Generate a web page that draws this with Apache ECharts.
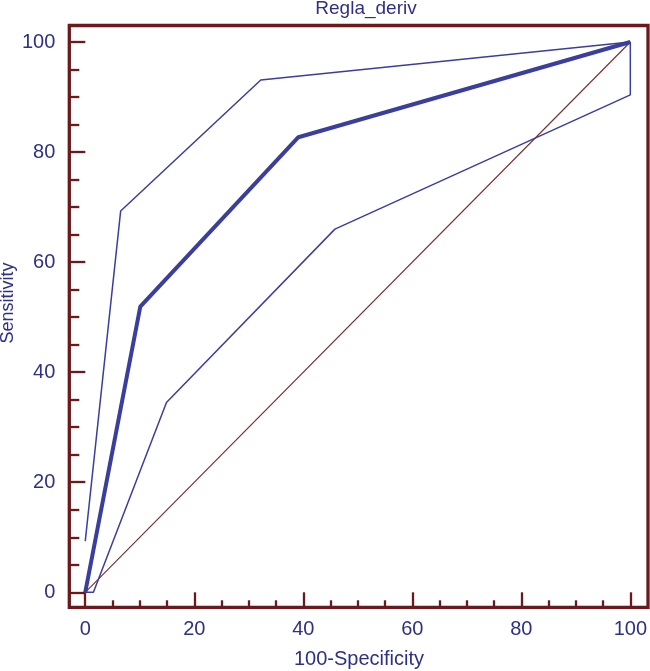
<!DOCTYPE html>
<html>
<head>
<meta charset="utf-8">
<script src="https://cdn.jsdelivr.net/npm/echarts@6/dist/echarts.min.js"></script>
<style>html,body{margin:0;padding:0;background:#fff}#c{width:650px;height:671px}</style>
</head>
<body>
<div id="c"></div>
<script>
// ROC curve data (100-Specificity, Sensitivity)
const rocX = [0, 10.1, 39.1, 100];
const rocY = [0, 51.9, 82.7, 100];
const upperX = [0, 6.5, 32.2, 100];
const upperY = [9.3, 69.3, 93.1, 100];
const lowerX = [0, 1.5, 14.9, 45.8, 100, 100];
const lowerY = [0, 0, 34.5, 66.0, 90.4, 100];
const diagX = [0, 100];
const diagY = [0, 100];
const xTicks = [0, 20, 40, 60, 80, 100];
const yTicks = [0, 20, 40, 60, 80, 100];
const xMinorTicks = [5, 10, 15, 25, 30, 35, 45, 50, 55, 65, 70, 75, 85, 90, 95];
const yMinorTicks = [5, 10, 15, 25, 30, 35, 45, 50, 55, 65, 70, 75, 85, 90, 95];
const xRange = [-2.925, 102.87];
const yRange = [-2.726, 103.0];
const titleText = 'Regla_deriv';
const xName = '100-Specificity';
const yName = 'Sensitivity';

const pair = (xs, ys) => xs.map((x, i) => [x, ys[i]]);
const textColor = '#2e3184';
const frameColor = '#6a1a1c';
const font = "'Liberation Sans', Arial, sans-serif";

function axis(kind, ticks, len, withLabels, margin) {
  const r = kind === 'x' ? xRange : yRange;
  return {
    type: 'value', min: r[0], max: r[1],
    position: kind === 'x' ? 'bottom' : 'left',
    axisLine: {show: false, onZero: false},
    axisTick: {show: true, inside: true, length: len, customValues: ticks,
               lineStyle: {color: frameColor, width: 2.3}},
    axisLabel: {show: withLabels, customValues: ticks, color: textColor,
                fontSize: 20, fontFamily: font, margin: margin},
    splitLine: {show: false}
  };
}

const chart = echarts.init(document.getElementById('c'), null, {renderer: 'canvas'});
chart.setOption({
  animation: false,
  backgroundColor: '#fff',
  grid: {left: 69.3, right: 2, top: 25.5, bottom: 671 - 607.3, containLabel: false},
  xAxis: [axis('x', xTicks, 15, true, 12), axis('x', xMinorTicks, 7, false, 8)],
  yAxis: [axis('y', yTicks, 16, true, 14), axis('y', yMinorTicks, 10, false, 8)],
  graphic: [
    {type: 'rect', shape: {x: 69.3, y: 25.5, width: 648 - 69.3, height: 607.3 - 25.5},
     style: {fill: 'none', stroke: frameColor, lineWidth: 3.3}, z: 10},
    {type: 'text', x: 366, y: 9, style: {text: titleText, fill: textColor, font: '19px ' + font, textAlign: 'center', textVerticalAlign: 'middle'}},
    {type: 'text', x: 359, y: 659, style: {text: xName, fill: textColor, font: '20px ' + font, textAlign: 'center', textVerticalAlign: 'middle'}},
    {type: 'text', x: 8, y: 303, rotation: Math.PI / 2, style: {text: yName, fill: textColor, font: '18px ' + font, textAlign: 'center', textVerticalAlign: 'middle'}}
  ],
  series: [
    {type: 'line', data: pair(diagX, diagY), symbol: 'none',
     lineStyle: {color: '#7a2a2a', width: 1.1}},
    {type: 'line', data: pair(upperX, upperY), symbol: 'none',
     lineStyle: {color: '#3a3e9c', width: 1.5}},
    {type: 'line', data: pair(lowerX, lowerY), symbol: 'none',
     lineStyle: {color: '#3a3e9c', width: 1.5}},
    {type: 'line', data: pair(rocX, rocY), symbol: 'none',
     lineStyle: {color: '#3a3e9c', width: 4}}
  ]
});
</script>
</body>
</html>
